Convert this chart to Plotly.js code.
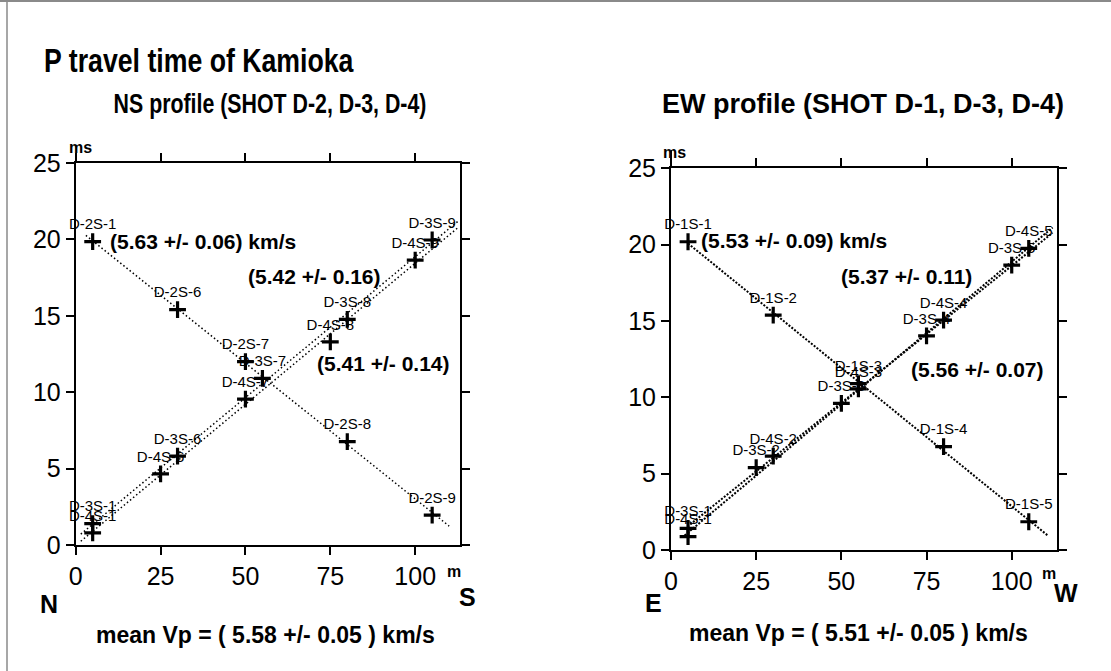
<!DOCTYPE html>
<html>
<head>
<meta charset="utf-8">
<script src="https://cdn.plot.ly/plotly-3.0.1.min.js"></script>
<style>
html,body{margin:0;padding:0;background:#fff;}
#chart{width:1111px;height:671px;}
</style>
</head>
<body>
<div id="chart"></div>
<script>
// ---------------- DATA ----------------
// NS profile (shots D-2, D-3, D-4): distance (m) and P travel time (ms)
var nsD2x = [5, 30, 50, 80, 105];
var nsD2y = [19.85, 15.4, 12.0, 6.76, 1.96];
var nsD2labels = ["D-2S-1", "D-2S-6", "D-2S-7", "D-2S-8", "D-2S-9"];

var nsD3x = [5, 30, 55, 80, 105];
var nsD3y = [1.4, 5.82, 10.9, 14.77, 19.96];
var nsD3labels = ["D-3S-1", "D-3S-6", "D-3S-7", "D-3S-8", "D-3S-9"];

var nsD4x = [5, 25, 50, 75, 100];
var nsD4y = [0.8, 4.65, 9.55, 13.3, 18.65];
var nsD4labels = ["D-4S-1", "D-4S-6", "D-4S-7", "D-4S-8", "D-4S-9"];

// EW profile (shots D-1, D-3, D-4)
var ewD1x = [5, 30, 55, 80, 105];
var ewD1y = [20.19, 15.39, 10.9, 6.77, 1.85];
var ewD1labels = ["D-1S-1", "D-1S-2", "D-1S-3", "D-1S-4", "D-1S-5"];

var ewD3x = [5, 25, 50, 75, 100];
var ewD3y = [1.42, 5.39, 9.6, 14.03, 18.66];
var ewD3labels = ["D-3S-1", "D-3S-2", "D-3S-3", "D-3S-4", "D-3S-5"];

var ewD4x = [5, 30, 55, 80, 105];
var ewD4y = [0.87, 6.15, 10.55, 15.06, 19.76];
var ewD4labels = ["D-4S-1", "D-4S-2", "D-4S-3", "D-4S-4", "D-4S-5"];

var xTicks = [0, 25, 50, 75, 100];
var yTicks = [0, 5, 10, 15, 20, 25];

var titleText = "P travel time of Kamioka";
var nsTitle = "NS profile (SHOT D-2, D-3, D-4)";
var ewTitle = "EW profile (SHOT D-1, D-3, D-4)";
var nsVel = ["(5.63 +/- 0.06) km/s", "(5.42 +/- 0.16)", "(5.41 +/- 0.14)"];
var ewVel = ["(5.53 +/- 0.09) km/s", "(5.37 +/- 0.11)", "(5.56 +/- 0.07)"];
var nsMean = "mean Vp = ( 5.58 +/- 0.05 ) km/s";
var ewMean = "mean Vp = ( 5.51 +/- 0.05 ) km/s";

// ---------------- STYLE / LAYOUT ----------------
var FONT = "Liberation Sans, Arial, Helvetica, sans-serif";
var W = 1111, H = 671;
function px(x){ return x / W; }
function py(y){ return 1 - y / H; }

// least-squares line through a series, evaluated at given x extents
function fitLine(xs, ys, x0, x1){
  var n = xs.length, mx = 0, my = 0;
  for (var i = 0; i < n; i++){ mx += xs[i]; my += ys[i]; }
  mx /= n; my /= n;
  var sxy = 0, sxx = 0;
  for (var j = 0; j < n; j++){ sxy += (xs[j]-mx)*(ys[j]-my); sxx += (xs[j]-mx)*(xs[j]-mx); }
  var b = sxy / sxx, a = my - b*mx;
  return {x: [x0, x1], y: [a + b*x0, a + b*x1]};
}

function lineTrace(xs, ys, ext, xa, ya, lw, dash){
  var f = fitLine(xs, ys, ext[0], ext[1]);
  return {x: f.x, y: f.y, xaxis: xa, yaxis: ya, mode: "lines", type: "scatter",
    line: {color: "#000", width: lw, dash: dash}, hoverinfo: "skip", cliponaxis: false};
}
function pointTrace(xs, ys, labels, xa, ya){
  return {x: xs, y: ys, text: labels, xaxis: xa, yaxis: ya, type: "scatter",
    mode: "markers+text", textposition: "top center", cliponaxis: false,
    textfont: {family: FONT, size: 15, color: "#000"},
    marker: {symbol: "cross-thin", size: 12, color: "#000", line: {color: "#000", width: 3.2}},
    hoverinfo: "skip"};
}

var nsDash = "1.5px,2.5px", ewDash = "2px,1.6px";
var traces = [
  lineTrace(nsD2x, nsD2y, [3, 110], "x", "y", 1.5, nsDash),
  lineTrace(nsD3x, nsD3y, [1.5, 112.5], "x", "y", 1.5, nsDash),
  lineTrace(nsD4x, nsD4y, [1.5, 112.5], "x", "y", 1.5, nsDash),
  lineTrace(ewD1x, ewD1y, [5, 110.5], "x2", "y2", 2, ewDash),
  lineTrace(ewD3x, ewD3y, [4, 112], "x2", "y2", 2, ewDash),
  lineTrace(ewD4x, ewD4y, [4, 112], "x2", "y2", 2, ewDash),
  pointTrace(nsD2x, nsD2y, nsD2labels, "x", "y"),
  pointTrace(nsD3x, nsD3y, nsD3labels, "x", "y"),
  pointTrace(nsD4x, nsD4y, nsD4labels, "x", "y"),
  pointTrace(ewD1x, ewD1y, ewD1labels, "x2", "y2"),
  pointTrace(ewD3x, ewD3y, ewD3labels, "x2", "y2"),
  pointTrace(ewD4x, ewD4y, ewD4labels, "x2", "y2")
];

function xAxis(dom, anchor){
  return {domain: dom, anchor: anchor, range: [0, 113.2], tickvals: xTicks,
    ticktext: xTicks.map(String), showgrid: false, zeroline: false,
    showline: true, linecolor: "#000", linewidth: 2, mirror: "allticks",
    ticks: "outside", ticklen: 8, tickwidth: 2, tickcolor: "#000",
    tickfont: {family: FONT, size: 25, color: "#000"}, fixedrange: true};
}
function yAxis(dom, anchor){
  return {domain: dom, anchor: anchor, range: [0, 25], tickvals: yTicks,
    ticktext: yTicks.map(String), showgrid: false, zeroline: false,
    showline: true, linecolor: "#000", linewidth: 2, mirror: "allticks",
    ticks: "outside", ticklen: 8, tickwidth: 2, tickcolor: "#000",
    tickfont: {family: FONT, size: 25, color: "#000"}, fixedrange: true};
}

function ann(text, x, y, size, bold, xanchor){
  return {text: bold ? "<b>" + text + "</b>" : text, xref: "paper", yref: "paper",
    x: px(x), y: py(y), xanchor: xanchor || "center", yanchor: "middle",
    showarrow: false, font: {family: FONT, size: size, color: "#000"}};
}

var annotations = [
  ann(titleText, 42, 60, 34, true, "left"),
  ann(nsTitle, 270, 104, 27, true),
  ann(ewTitle, 863, 104, 27, true),
  ann(nsVel[0], 203, 241, 21, true),
  ann(nsVel[1], 314, 277, 21, true),
  ann(nsVel[2], 383, 363, 21, true),
  ann(ewVel[0], 794, 240, 21, true),
  ann(ewVel[1], 906, 277, 21, true),
  ann(ewVel[2], 977, 369, 21, true),
  ann("ms", 80, 147, 16, true),
  ann("ms", 674, 152, 16, true),
  ann("m", 454, 571, 16, true),
  ann("m", 1049, 573, 16, true),
  ann("N", 49, 604, 25, true),
  ann("S", 467, 597, 25, true),
  ann("E", 653, 603, 25, true),
  ann("W", 1066, 593, 25, true),
  ann(nsMean, 265, 635, 23, true),
  ann(ewMean, 858, 633, 23, true)
];
// horizontal condensing of the left-hand heading texts (as in the original slide)
var condense = [{index: 0, scale: 0.785, anchor: "left"}, {index: 1, scale: 0.79, anchor: "center"}];

var shapes = [
  {type: "line", xref: "paper", yref: "paper", x0: 0, x1: 1, y0: py(1), y1: py(1),
   line: {color: "#8a8a8a", width: 2}},
  {type: "line", xref: "paper", yref: "paper", x0: px(7), x1: px(7), y0: 0, y1: 1,
   line: {color: "#8a8a8a", width: 1.5}},
  // short upward extension of each y axis above its top frame
  {type: "line", xref: "x", yref: "paper", x0: 0, x1: 0, y0: py(163), y1: py(145),
   line: {color: "#000", width: 2}},
  {type: "line", xref: "x2", yref: "paper", x0: 0, x1: 0, y0: py(168), y1: py(150),
   line: {color: "#000", width: 2}}
];

var layout = {
  width: W, height: H,
  margin: {l: 0, r: 0, t: 0, b: 0, pad: 0},
  paper_bgcolor: "#fff", plot_bgcolor: "#fff",
  showlegend: false, hovermode: false,
  font: {family: FONT, color: "#000"},
  xaxis: xAxis([px(75.7), px(460)], "y"),
  yaxis: yAxis([1 - 545/H, 1 - 163/H], "x"),
  xaxis2: xAxis([px(671), px(1056.7)], "y2"),
  yaxis2: yAxis([1 - 550/H, 1 - 168.3/H], "x2"),
  annotations: annotations,
  shapes: shapes
};

Plotly.newPlot("chart", traces, layout, {displayModeBar: false, staticPlot: true}).then(function(){
  condense.forEach(function(c){
    var g = document.querySelector('g.annotation[data-index="' + c.index + '"]');
    if (!g) return;
    var t = g.querySelector("text.annotation-text");
    if (!t) return;
    var bb = t.getBBox();
    var cx = c.anchor === "left" ? bb.x : bb.x + bb.width / 2;
    t.setAttribute("transform", "translate(" + cx + ",0) scale(" + c.scale + ",1) translate(" + (-cx) + ",0)");
  });
});
</script>
</body>
</html>
